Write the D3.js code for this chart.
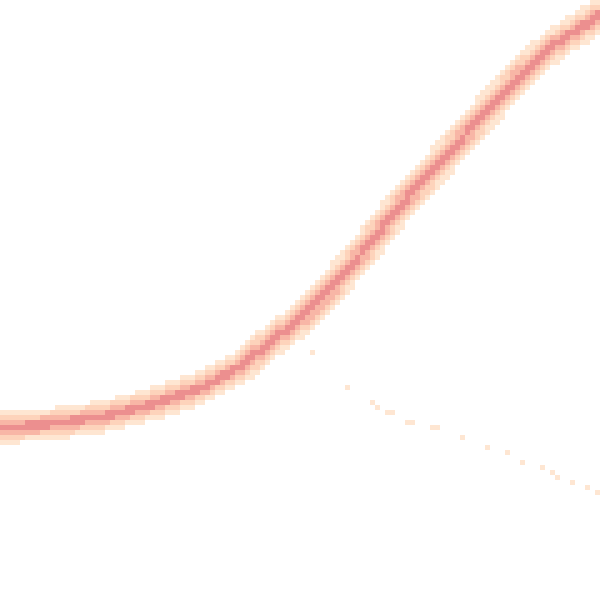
<!DOCTYPE html>
<html><head><meta charset="utf-8">
<script src="https://cdn.jsdelivr.net/npm/d3@7"></script>
<style>html,body{margin:0;padding:0;background:#fff;}svg{display:block;}</style>
</head><body><div id="chart"></div>
<script>
// Main ridge centerline (data units, x 0..100, y 0..100 upward)
const curveX = [0, 8.3, 16.7, 25, 33.3, 40, 45, 50, 55, 60, 66.7, 73.3, 80, 86.7, 91.7, 96.7, 100];
const curveY = [28.7, 29.3, 30.5, 32.5, 35.3, 38.8, 43, 46.7, 51.7, 57.5, 65.8, 72.8, 80.3, 87.5, 92, 95.3, 97.5];
// Sparse secondary branch samples
const branchX = [51.7, 57.8, 61.7, 62.8, 64.2, 65.2, 68, 69, 72, 73, 76.7, 81.3, 84.2, 87, 90, 91.7, 93.3, 95.8, 97.5, 99.3];
const branchY = [41.3, 35.8, 32.7, 31.7, 31, 31, 30, 30, 29, 29, 27.5, 25.5, 24.2, 23.2, 22.2, 21, 20.3, 19.5, 18.7, 17.8];
const bandColors = ["#fee6d2", "#fdd3bb", "#f8b6a6", "#ec8f8f"];

const W = 600, H = 600, cell = 5;
const x = d3.scaleLinear().domain([0, 100]).range([0, W]);
const y = d3.scaleLinear().domain([0, 100]).range([H, 0]);

const svg = d3.select("#chart").append("svg").attr("width", W).attr("height", H);

const pts = curveX.map((v, i) => [x(v), y(curveY[i])]);
function distSeg(px, py, a, b) {
  const dx = b[0] - a[0], dy = b[1] - a[1];
  let t = ((px - a[0]) * dx + (py - a[1]) * dy) / (dx * dx + dy * dy);
  t = Math.max(0, Math.min(1, t));
  const qx = a[0] + t * dx, qy = a[1] + t * dy;
  return Math.hypot(px - qx, py - qy);
}
const cells = [];
for (let gy = 0; gy < H / cell; gy++) {
  for (let gx = 0; gx < W / cell; gx++) {
    const cx = gx * cell + cell / 2, cy = gy * cell + cell / 2;
    let d = Infinity;
    for (let i = 0; i < pts.length - 1; i++) d = Math.min(d, distSeg(cx, cy, pts[i], pts[i + 1]));
    let lvl = -1;
    if (d <= 3.5) lvl = 3; else if (d <= 7.5) lvl = 2; else if (d <= 11.5) lvl = 1; else if (d <= 16) lvl = 0;
    if (lvl >= 0) cells.push({gx, gy, lvl});
  }
}
branchX.forEach((v, i) => {
  const gx = Math.floor(x(v) / cell), gy = Math.floor(y(branchY[i]) / cell);
  cells.push({gx, gy, lvl: 0});
});

svg.append("g").attr("shape-rendering", "crispEdges")
  .selectAll("rect").data(cells).join("rect")
  .attr("x", d => d.gx * cell).attr("y", d => d.gy * cell)
  .attr("width", cell).attr("height", cell)
  .attr("fill", d => bandColors[d.lvl]);
</script></body></html>
